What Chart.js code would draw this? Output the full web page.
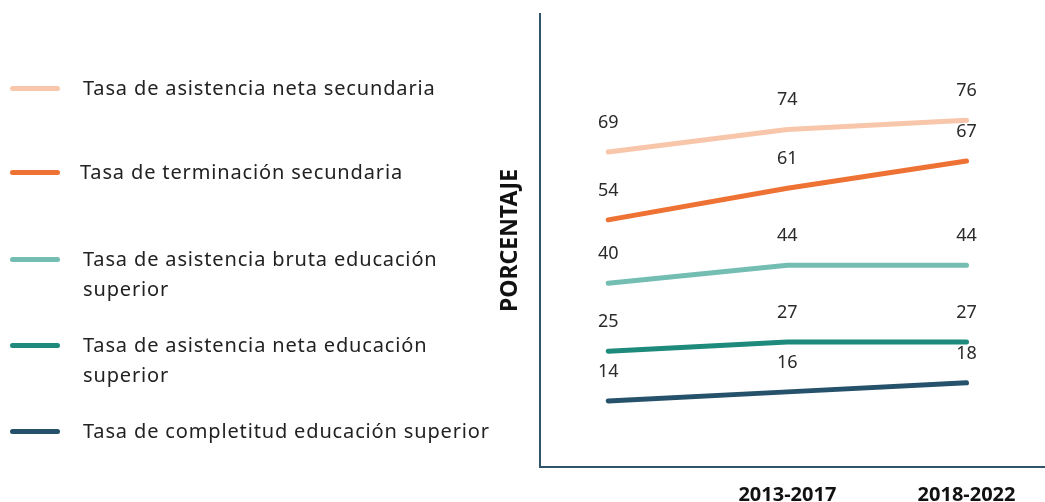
<!DOCTYPE html>
<html>
<head>
<meta charset="utf-8">
<script src="https://cdn.jsdelivr.net/npm/chart.js@4.4.1/dist/chart.umd.min.js"></script>
<style>
  html, body { margin: 0; padding: 0; background: #ffffff; overflow: hidden; }
  #wrap { position: relative; width: 1045px; height: 502px; overflow: hidden; }
  #chartBox { position: absolute; left: 0; top: 0; width: 1045px; height: 523px; }
  #legend { position: absolute; left: 0; top: 0; font-family: "Noto Sans", sans-serif; font-size: 20px; color: #222222; letter-spacing: 0.85px; }
  .item { position: absolute; left: 10px; line-height: 30px; }
  .item .mark { position: absolute; left: 0; top: 13px; width: 50px; height: 5px; border-radius: 3px; }
  .item .txt { position: absolute; left: 73px; top: 0; white-space: pre; }
</style>
</head>
<body>
<div id="wrap">
  <div id="chartBox"><canvas id="chart"></canvas></div>
  <div id="legend"></div>
</div>
<script>
// Periodos (el primero no tiene etiqueta en el original)
const periodos = ["", "2013-2017", "2018-2022"];

// Nombres de las series
const nombres = [
  "Tasa de asistencia neta secundaria",
  "Tasa de terminación secundaria",
  "Tasa de asistencia bruta educación\nsuperior",
  "Tasa de asistencia neta educación\nsuperior",
  "Tasa de completitud educación superior"
];

// Valores (porcentaje)
const asistenciaNetaSec = [69, 74, 76];
const terminacionSec = [54, 61, 67];
const asistenciaBrutaSup = [40, 44, 44];
const asistenciaNetaSup = [25, 27, 27];
const completitudSup = [14, 16, 18];

const colores = ["#F8C6AA", "#EE7233", "#73BDB3", "#1E8A7B", "#26516A"];
const series = [asistenciaNetaSec, terminacionSec, asistenciaBrutaSup, asistenciaNetaSup, completitudSup];

// Leyenda en HTML
const legendTops = [73, 157, 244, 330, 416];
const legendEl = document.getElementById("legend");
nombres.forEach((nombre, i) => {
  const item = document.createElement("div");
  item.className = "item";
  item.style.top = legendTops[i] + "px";
  const mark = document.createElement("div");
  mark.className = "mark";
  mark.style.background = colores[i];
  const txt = document.createElement("div");
  txt.className = "txt";
  if (i === 1) txt.style.left = "70px";
  txt.textContent = nombre;
  item.appendChild(mark);
  item.appendChild(txt);
  legendEl.appendChild(item);
});

// Etiquetas de valores sobre cada punto
const valueLabels = {
  id: "valueLabels",
  afterDatasetsDraw(chart) {
    const ctx = chart.ctx;
    ctx.save();
    ctx.font = "18px 'Noto Sans', sans-serif";
    ctx.fillStyle = "#2a2a2a";
    ctx.textAlign = "center";
    ctx.textBaseline = "alphabetic";
    chart.data.datasets.forEach((ds, i) => {
      const meta = chart.getDatasetMeta(i);
      meta.data.forEach((pt, j) => {
        ctx.fillText(ds.data[j].y, pt.x, pt.y - 24);
      });
    });
    ctx.restore();
  }
};

const ctx = document.getElementById("chart").getContext("2d");
const chart = new Chart(ctx, {
  type: "line",
  data: {
    datasets: series.map((vals, i) => ({
      label: nombres[i],
      data: vals.map((v, j) => ({ x: j, y: v })),
      borderColor: colores[i],
      backgroundColor: colores[i],
      borderWidth: 5,
      borderCapStyle: "round",
      borderJoinStyle: "round",
      pointRadius: 0,
      tension: 0
    }))
  },
  options: {
    responsive: true,
    maintainAspectRatio: false,
    animation: false,
    layout: { padding: { left: 497, top: 14, right: 0, bottom: 0 } },
    plugins: { legend: { display: false }, tooltip: { enabled: false } },
    scales: {
      x: {
        type: "linear",
        min: -0.383,
        max: 2.438,
        afterBuildTicks: (scale) => {
          scale.ticks = periodos.map((p, i) => ({ value: i }));
        },
        ticks: {
          padding: 16,
          color: "#111111",
          font: { family: "'Noto Sans', sans-serif", size: 20, weight: "bold" },
          callback: (v) => periodos[v] !== undefined ? periodos[v] : ""
        },
        grid: { display: false, drawTicks: false },
        border: { display: true, color: "#2F5568", width: 2 }
      },
      y: {
        min: -0.6,
        max: 99.5,
        ticks: { display: false },
        grid: { display: false, drawTicks: false },
        border: { display: true, color: "#2F5568", width: 2 },
        title: {
          display: true,
          text: "PORCENTAJE",
          color: "#111111",
          font: { family: "'Noto Sans', sans-serif", size: 23, weight: "bold" },
          padding: { top: 0, bottom: 15 }
        }
      }
    }
  },
  plugins: [valueLabels]
});
</script>
</body>
</html>
